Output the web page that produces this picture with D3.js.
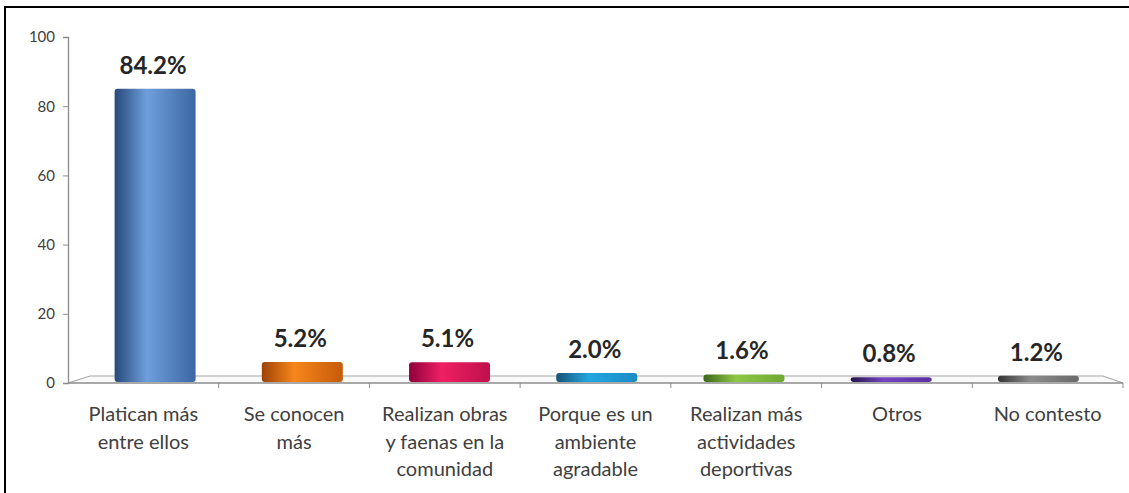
<!DOCTYPE html>
<html>
<head>
<meta charset="utf-8">
<script src="https://cdn.jsdelivr.net/npm/d3@7"></script>
<style>
  html, body { margin: 0; padding: 0; background: #fff; }
  svg { display: block; }
</style>
</head>
<body>
<svg id="chart" width="1129" height="493"></svg>
<script>
// Razones por las que mejora la convivencia (porcentaje)
const categories = [
  ["Platican más", "entre ellos"],
  ["Se conocen", "más"],
  ["Realizan obras", "y faenas en la", "comunidad"],
  ["Porque es un", "ambiente", "agradable"],
  ["Realizan más", "actividades", "deportivas"],
  ["Otros"],
  ["No contesto"]
];
const values = [84.2, 5.2, 5.1, 2.0, 1.6, 0.8, 1.2];
const yTicks = [0, 20, 40, 60, 80, 100];
// gradient stops per bar: dark edge, highlight, right edge
const barColors = [
  ["#27497a", "#6e9fdc", "#3c67a3"],
  ["#9c4304", "#f7861c", "#c65a08"],
  ["#8e003a", "#ee1f63", "#c0104c"],
  ["#165478", "#23a6df", "#1c8cc4"],
  ["#3a661a", "#8fc744", "#6ea832"],
  ["#24154a", "#7444c4", "#5a2ea0"],
  ["#333333", "#8c8c8c", "#6a6a6a"]
];

const svg = d3.select("#chart");
const defs = svg.append("defs");

// outer frame
svg.append("rect")
  .attr("x", 5).attr("y", 7).attr("width", 1140).attr("height", 500)
  .attr("fill", "none").attr("stroke", "#000").attr("stroke-width", 2);

const y = d3.scaleLinear().domain([0, 100]).range([383, 37]);
const keys = d3.range(values.length);

// front edge of the floor (labels, ticks) and back edge
const xFront = d3.scaleBand().domain(keys).range([68, 1123]);
const xBack = [90, 1103];
const floorBackY = 376;
// bars sit mid-depth between front and back edges
const xBar = d3.scaleBand().domain(keys).range([81.5, 1112])
  .paddingInner(0.45).paddingOuter(0.225);

// floor
const axisColor = "#8c8c8c";
svg.append("path")
  .attr("d", `M${xFront.range()[0]},${y(0)} L${xBack[0]},${floorBackY} L${xBack[1]},${floorBackY} L${xFront.range()[1]},${y(0)}`)
  .attr("fill", "#fafafa").attr("stroke", "#a6a6a6").attr("stroke-width", 1.2);

// y axis
const yAxis = d3.axisLeft(y).tickValues(yTicks).tickSize(5).tickPadding(8);
const gy = svg.append("g").attr("transform", "translate(68,0)").call(yAxis);
gy.select(".domain").attr("stroke", axisColor).attr("stroke-width", 1.3);
gy.selectAll(".tick line").attr("stroke", axisColor);
gy.selectAll(".tick text")
  .attr("font-family", "Lato, 'Open Sans', sans-serif")
  .attr("font-size", 15).attr("fill", "#404040");

// x axis front line with ticks at the band boundaries
const gx = svg.append("g");
gx.append("line")
  .attr("x1", xFront.range()[0]).attr("x2", xFront.range()[1])
  .attr("y1", y(0)).attr("y2", y(0))
  .attr("stroke", axisColor).attr("stroke-width", 1.3);
gx.selectAll("line.tk").data(keys.slice(1).concat([values.length]))
  .join("line").attr("class", "tk")
  .attr("x1", d => xFront.range()[0] + d * xFront.step())
  .attr("x2", d => xFront.range()[0] + d * xFront.step())
  .attr("y1", y(0)).attr("y2", y(0) + 5)
  .attr("stroke", axisColor);

// bar gradients
barColors.forEach((c, i) => {
  const g = defs.append("linearGradient").attr("id", "g" + i)
    .attr("x1", "0%").attr("x2", "100%").attr("y1", "0%").attr("y2", "0%");
  g.append("stop").attr("offset", "0%").attr("stop-color", c[0]);
  g.append("stop").attr("offset", "40%").attr("stop-color", c[1]);
  g.append("stop").attr("offset", "100%").attr("stop-color", c[2]);
});

const cap = 3; // visible depth of the bar top
svg.append("g").selectAll("rect").data(values).join("rect")
  .attr("x", (d, i) => xBar(i))
  .attr("width", xBar.bandwidth())
  .attr("y", d => y(d) - cap)
  .attr("height", d => y(0) - 1 - y(d) + cap)
  .attr("rx", 3)
  .attr("fill", (d, i) => `url(#g${i})`);

// value labels
svg.append("g").selectAll("text").data(values).join("text")
  .attr("x", (d, i) => xBar(i) + xBar.bandwidth() / 2 - 2)
  .attr("y", d => y(d) - cap - 15)
  .attr("text-anchor", "middle")
  .attr("font-family", "Lato, 'Open Sans', sans-serif")
  .attr("font-weight", "bold").attr("font-size", 24)
  .attr("fill", "#262626")
  .text(d => d.toFixed(1) + "%");

// category labels
svg.append("g").selectAll("text").data(categories).join("text")
  .attr("x", (d, i) => xFront(i) + xFront.bandwidth() / 2)
  .attr("y", 421)
  .attr("text-anchor", "middle")
  .attr("font-family", "Lato, 'Open Sans', sans-serif")
  .attr("font-size", 20).attr("fill", "#404040")
  .each(function(lines) {
    const t = d3.select(this);
    const x = t.attr("x");
    lines.forEach((l, j) => {
      t.append("tspan").attr("x", x).attr("dy", j === 0 ? 0 : 27.5).text(l);
    });
  });
</script>
</body>
</html>
